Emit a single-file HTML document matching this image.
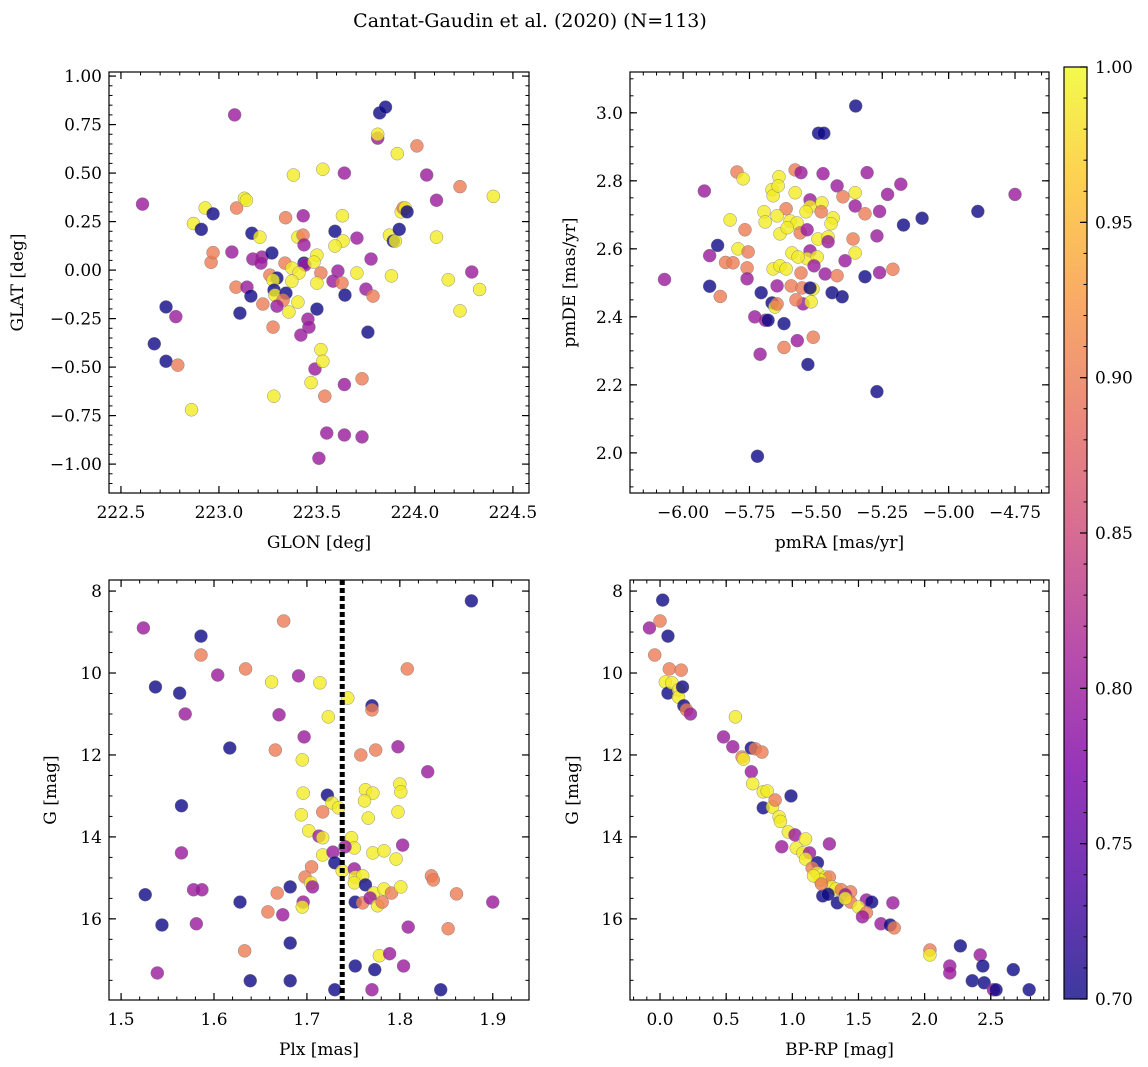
<!DOCTYPE html>
<html><head><meta charset="utf-8"><style>
html,body{margin:0;padding:0;background:#fff;}
svg{display:block;font-family:"DejaVu Serif","Liberation Serif",serif;}
</style></head><body>
<svg id="fig" width="1148" height="1067" viewBox="0 0 1148 1067" xmlns="http://www.w3.org/2000/svg">
<defs>
<linearGradient id="plasma" x1="0" y1="1" x2="0" y2="0">
<stop offset="0" stop-color="#0d0887"/><stop offset="0.125" stop-color="#4c02a1"/><stop offset="0.25" stop-color="#7e03a8"/><stop offset="0.375" stop-color="#a82296"/><stop offset="0.5" stop-color="#cc4778"/><stop offset="0.625" stop-color="#e66c5c"/><stop offset="0.75" stop-color="#f89540"/><stop offset="0.875" stop-color="#fdc328"/><stop offset="1" stop-color="#f0f921"/>
</linearGradient>
</defs>
<text x="530" y="27" font-size="19" text-anchor="middle">Cantat-Gaudin et al. (2020) (N=113)</text>
</svg>
<script>
const P=0.8,O=0.9,Y=0.99,D=0.7;
const glonGlat=[[222.61,0.34,P],[222.67,-0.38,D],[222.73,-0.19,D],[222.73,-0.47,D],[222.78,-0.24,P],[222.79,-0.49,O],[222.87,0.24,Y],[222.86,-0.72,Y],[222.91,0.21,D],[222.93,0.32,Y],[222.96,0.04,O],[222.97,0.29,D],[222.97,0.09,O],[223.08,0.80,P],[223.09,0.32,O],[223.13,0.37,Y],[223.14,0.36,Y],[223.28,-0.65,Y],[223.34,0.27,O],[223.38,0.49,Y],[223.43,0.28,P],[223.47,-0.58,Y],[223.49,-0.51,P],[223.52,-0.41,Y],[223.53,0.52,Y],[223.53,-0.47,Y],[223.54,-0.65,O],[223.55,-0.84,P],[223.51,-0.97,P],[223.63,0.28,Y],[223.64,0.50,P],[223.64,-0.59,P],[223.64,-0.85,P],[223.73,-0.56,O],[223.73,-0.86,P],[223.81,0.68,P],[223.81,0.70,Y],[223.82,0.81,D],[223.85,0.84,D],[223.87,0.18,Y],[223.88,-0.03,Y],[223.89,0.15,D],[223.90,0.15,Y],[223.91,0.60,Y],[223.92,0.21,D],[223.93,0.30,Y],[223.94,0.32,O],[223.95,0.32,Y],[223.96,0.30,D],[224.01,0.64,O],[224.06,0.49,P],[224.11,0.36,P],[224.11,0.17,Y],[224.17,-0.05,Y],[224.23,0.43,O],[224.29,-0.01,P],[224.33,-0.10,Y],[224.23,-0.21,Y],[224.40,0.38,Y],
[223.168,0.19,D],[223.209,0.17,Y],[223.403,0.17,Y],[223.429,0.18,O],[223.434,0.13,P],[223.592,0.20,D],[223.633,0.15,Y],[223.592,0.124,Y],[223.704,0.165,P],[223.066,0.093,P],[223.173,0.057,P],[223.219,0.067,P],[223.214,0.036,P],[223.270,0.088,D],[223.337,0.036,O],[223.434,0.036,D],[223.439,0.026,P],[223.500,0.077,Y],[223.485,0.041,Y],[223.372,0.010,Y],[223.408,-0.015,Y],[223.520,-0.015,O],[223.607,-0.005,P],[223.704,-0.015,Y],[223.776,0.057,P],[223.260,-0.026,O],[223.296,-0.041,D],[223.276,-0.052,Y],[223.372,-0.057,Y],[223.500,-0.067,Y],[223.582,-0.057,P],[223.628,-0.067,O],[223.087,-0.088,O],[223.143,-0.088,P],[223.163,-0.134,D],[223.281,-0.103,D],[223.286,-0.129,Y],[223.342,-0.119,D],[223.327,-0.155,O],[223.296,-0.186,P],[223.224,-0.175,O],[223.403,-0.165,Y],[223.357,-0.216,Y],[223.643,-0.129,D],[223.750,-0.098,P],[223.786,-0.134,O],[223.107,-0.222,D],[223.500,-0.201,D],[223.454,-0.253,P],[223.459,-0.294,P],[223.276,-0.294,O],[223.418,-0.335,P],[223.760,-0.320,D]];
const pmRaDe=[[-6.07,2.51,P],[-5.92,2.77,P],[-5.90,2.58,P],[-5.90,2.49,D],[-5.87,2.61,D],[-5.86,2.46,O],[-5.84,2.56,O],[-5.73,2.40,P],[-5.72,1.99,D],[-5.71,2.29,P],[-5.69,2.39,P],[-5.68,2.39,D],[-5.62,2.38,D],[-5.62,2.31,O],[-5.57,2.33,P],[-5.53,2.26,D],[-5.51,2.34,O],[-5.49,2.94,D],[-5.47,2.94,D],[-5.35,3.02,D],[-5.27,2.18,D],[-5.23,2.76,P],[-5.21,2.54,O],[-5.18,2.79,P],[-5.17,2.67,D],[-5.10,2.69,D],[-4.89,2.71,D],[-4.75,2.76,P],[-5.26,2.53,P],[-5.26,2.71,P],
[-5.797,2.826,O],[-5.774,2.806,Y],[-5.639,2.812,Y],[-5.578,2.832,O],[-5.556,2.824,P],[-5.473,2.821,P],[-5.307,2.824,P],[-5.665,2.774,Y],[-5.661,2.756,Y],[-5.642,2.785,Y],[-5.578,2.765,Y],[-5.420,2.785,P],[-5.398,2.753,O],[-5.352,2.765,Y],[-5.522,2.744,P],[-5.522,2.724,Y],[-5.477,2.735,Y],[-5.480,2.709,O],[-5.537,2.709,Y],[-5.352,2.726,P],[-5.315,2.703,O],[-5.612,2.718,O],[-5.695,2.709,Y],[-5.691,2.679,Y],[-5.646,2.697,Y],[-5.597,2.682,Y],[-5.571,2.676,Y],[-5.635,2.644,Y],[-5.608,2.662,Y],[-5.559,2.647,O],[-5.533,2.656,P],[-5.435,2.691,Y],[-5.443,2.674,Y],[-5.823,2.685,Y],[-5.767,2.656,O],[-5.492,2.629,Y],[-5.454,2.635,Y],[-5.454,2.621,P],[-5.360,2.629,O],[-5.270,2.638,P],[-5.793,2.600,Y],[-5.755,2.591,O],[-5.590,2.588,Y],[-5.522,2.594,P],[-5.533,2.571,Y],[-5.495,2.576,Y],[-5.567,2.576,Y],[-5.352,2.588,Y],[-5.390,2.565,P],[-5.812,2.559,O],[-5.759,2.544,O],[-5.661,2.541,Y],[-5.635,2.550,Y],[-5.612,2.541,Y],[-5.507,2.550,P],[-5.556,2.529,O],[-5.465,2.526,P],[-5.420,2.521,O],[-5.315,2.518,D],[-5.759,2.512,P],[-5.646,2.491,P],[-5.593,2.491,O],[-5.552,2.485,O],[-5.511,2.482,Y],[-5.522,2.485,D],[-5.706,2.471,D],[-5.439,2.471,D],[-5.401,2.459,D],[-5.548,2.438,P],[-5.575,2.450,O],[-5.518,2.444,Y],[-5.665,2.441,D],[-5.654,2.429,Y],[-5.646,2.438,O]];
const plxG=[[1.524,8.90,P],[1.526,15.41,D],[1.537,10.34,D],[1.539,17.32,P],[1.544,16.15,D],[1.563,10.49,D],[1.565,13.24,D],[1.565,14.39,P],[1.569,11.00,P],[1.578,15.29,P],[1.581,16.12,P],[1.586,9.10,D],[1.586,9.56,O],[1.587,15.29,P],[1.604,10.05,P],[1.617,11.83,D],[1.628,15.59,D],[1.633,16.78,O],[1.634,9.90,O],[1.639,17.51,D],[1.658,15.83,O],[1.662,10.22,Y],[1.666,11.88,O],[1.668,15.37,O],[1.670,11.02,P],
[1.675,8.73,O],[1.682,16.59,D],[1.682,17.51,D],[1.691,10.07,P],[1.695,12.12,Y],[1.697,11.56,P],[1.714,10.24,Y],[1.723,11.07,Y],[1.730,17.73,D],[1.744,10.61,Y],[1.752,17.15,D],[1.758,12.00,O],[1.770,10.80,D],[1.770,10.90,O],[1.770,17.73,P],[1.773,17.24,D],[1.774,11.88,O],[1.778,16.90,Y],[1.789,16.85,P],[1.798,11.80,P],[1.804,17.15,P],[1.808,9.90,O],[1.830,12.41,P],
[1.696,12.93,Y],[1.722,12.98,D],[1.727,13.17,Y],[1.734,13.29,Y],[1.717,13.39,O],[1.694,13.46,Y],[1.702,13.85,Y],[1.713,13.98,P],[1.717,14.02,Y],[1.717,14.44,Y],[1.728,14.37,P],[1.730,14.63,D],[1.748,14.02,Y],[1.751,14.27,Y],[1.741,14.24,P],[1.763,12.85,Y],[1.771,12.93,Y],[1.762,13.12,Y],[1.766,13.54,Y],[1.798,13.39,Y],[1.800,12.71,Y],[1.801,12.90,Y],[1.803,14.20,P],[1.771,14.39,Y],[1.783,14.34,Y],[1.796,14.54,Y],[1.705,14.73,O],[1.698,14.98,O],[1.704,15.12,Y],[1.706,15.22,P],[1.682,15.22,D],[1.696,15.59,P],[1.695,15.71,Y],[1.674,15.90,P],[1.738,14.83,Y],[1.751,14.78,P],[1.752,14.98,Y],[1.760,14.95,Y],[1.751,15.12,Y],[1.763,15.17,D],[1.772,15.37,Y],[1.783,15.27,Y],[1.791,15.37,O],[1.801,15.22,Y],[1.752,15.59,D],[1.760,15.61,O],[1.768,15.49,P],[1.776,15.68,Y],[1.781,15.59,O],[1.809,16.20,P],
[1.834,14.95,O],[1.836,15.05,O],[1.844,17.73,D],[1.852,16.24,O],[1.861,15.39,O],[1.877,8.24,D],[1.900,15.59,P]];
const bprpG=[[-0.08,8.90,P],[0.00,8.73,O],[0.02,8.22,D],[-0.04,9.56,O],[0.06,9.10,D],[0.04,10.22,Y],[0.06,10.49,D],[0.07,9.90,O],[0.09,10.24,Y],[0.14,10.41,Y],[0.16,9.93,O],[0.14,10.59,Y],[0.17,10.34,D],[0.18,10.80,D],[0.20,10.90,O],[0.23,11.00,P],[0.57,11.07,Y],
[0.48,11.56,P],[0.55,11.80,P],[0.69,11.83,D],[0.72,11.85,O],[0.77,11.93,O],[0.62,12.05,O],[0.63,12.10,Y],[0.69,12.41,P],[0.70,12.70,Y],[0.78,12.90,Y],[0.81,12.88,Y],[0.99,13.00,D],[0.78,13.29,D],[0.85,13.27,Y],[0.87,13.10,O],[0.90,13.51,Y],[0.91,13.62,Y],[0.97,13.88,Y],
[1.02,13.95,P],[1.10,14.05,Y],[0.92,14.24,P],[1.28,14.17,P],[1.03,14.27,Y],[1.08,14.39,Y],[1.13,14.39,P],[1.10,14.54,Y],[1.19,14.63,D],[1.15,14.76,O],[1.19,14.88,Y],[1.25,14.98,Y],[1.28,14.98,O],[1.21,15.05,Y],[1.23,15.44,D],[1.30,15.22,Y],[1.33,15.27,Y],[1.37,15.29,O],[1.44,15.34,O],[1.40,15.41,P],[1.34,15.61,D],[1.44,15.59,O],[1.56,15.54,P],[1.60,15.59,D],[1.76,15.61,P],[1.50,15.71,Y],[1.56,15.85,O],[1.53,15.95,P],[1.67,16.12,P],[1.74,16.15,D],[1.77,16.22,O],[1.16,14.95,Y],[1.22,15.15,O],[1.27,15.40,D],[1.40,15.50,Y],
[2.04,16.76,O],[2.04,16.88,Y],[2.19,17.15,P],[2.19,17.32,P],[2.27,16.66,D],[2.36,17.51,D],[2.42,16.88,P],[2.44,17.15,D],[2.45,17.56,D],[2.52,17.73,P],[2.54,17.73,D],[2.67,17.24,D],[2.79,17.73,D]];
const cbTicks=[0.70,0.75,0.80,0.85,0.90,0.95,1.00];

const NS="http://www.w3.org/2000/svg";
const svg=document.getElementById('fig');
function el(tag,attrs,parent){const e=document.createElementNS(NS,tag);for(const k in attrs)e.setAttribute(k,attrs[k]);(parent||svg).appendChild(e);return e;}
const stops=[[0,[13,8,135]],[0.125,[76,2,161]],[0.25,[126,3,168]],[0.375,[168,34,150]],[0.5,[204,71,120]],[0.625,[230,108,92]],[0.75,[248,149,64]],[0.875,[253,195,40]],[1,[240,249,33]]];
function plasma(v){let t=Math.max(0,Math.min(1,(v-0.7)/0.3));for(let i=1;i<stops.length;i++){if(t<=stops[i][0]){const a=stops[i-1],b=stops[i];const f=(t-a[0])/(b[0]-a[0]);const c=a[1].map((x,j)=>Math.round(x+(b[1][j]-x)*f));return `rgb(${c.join(',')})`;}}return 'rgb(240,249,33)';}
function fmt(v,dec){let s=v.toFixed(dec);if(v<-1e-9)s='\u2212'+s.slice(1);if(Math.abs(v)<1e-9)s=(0).toFixed(dec);return s;}

function panel(o){
  const g=el('g',{});
  
  
  const X=v=>o.l+(v-o.x0)/(o.x1-o.x0)*(o.r-o.l);
  const Yf=v=>o.inv? o.t+(v-o.y0)/(o.y1-o.y0)*(o.b-o.t) : o.b-(v-o.y0)/(o.y1-o.y0)*(o.b-o.t);
  for(const d of o.data){
    const c=el('circle',{cx:X(d[0]),cy:Yf(d[1]),r:6.5,fill:plasma(d[2]),'fill-opacity':0.8,stroke:'#777','stroke-width':0.4},g);
    
    
  }
  if(o.vline!==undefined){const ln=el('line',{x1:X(o.vline),x2:X(o.vline),y1:o.t,y2:o.b,stroke:'#000','stroke-width':5,'stroke-dasharray':'5,3'},g);
    
    }
  const fr=el('rect',{x:o.l,y:o.t,width:o.r-o.l,height:o.b-o.t,fill:'none',stroke:'#000','stroke-width':1.2},g);
  
  
  const eps=1e-9;
  const xm0=Math.ceil(Math.min(o.x0,o.x1)/o.xmin-eps)*o.xmin;
  for(let v=xm0;v<=Math.max(o.x0,o.x1)+eps;v+=o.xmin){const x=X(v);el('line',{x1:x,x2:x,y1:o.b,y2:o.b-3.5,stroke:'#000','stroke-width':1},g);el('line',{x1:x,x2:x,y1:o.t,y2:o.t+3.5,stroke:'#000','stroke-width':1},g);}
  const ylo=Math.min(o.y0,o.y1),yhi=Math.max(o.y0,o.y1);
  for(let v=Math.ceil(ylo/o.ymin-eps)*o.ymin;v<=yhi+eps;v+=o.ymin){const y=Yf(v);el('line',{x1:o.l,x2:o.l+3.5,y1:y,y2:y,stroke:'#000','stroke-width':1},g);el('line',{x1:o.r,x2:o.r-3.5,y1:y,y2:y,stroke:'#000','stroke-width':1},g);}
  for(const v of o.xt){const x=X(v);el('line',{x1:x,x2:x,y1:o.b,y2:o.b-7,stroke:'#000','stroke-width':1.2},g);el('line',{x1:x,x2:x,y1:o.t,y2:o.t+7,stroke:'#000','stroke-width':1.2},g);
    const t=el('text',{x:x,y:o.b+25,'font-size':17,'text-anchor':'middle'},g);t.textContent=fmt(v,o.xd);
    
    }
  for(const v of o.yt){const y=Yf(v);el('line',{x1:o.l,x2:o.l+7,y1:y,y2:y,stroke:'#000','stroke-width':1.2},g);el('line',{x1:o.r,x2:o.r-7,y1:y,y2:y,stroke:'#000','stroke-width':1.2},g);
    const t=el('text',{x:o.l-7,y:y+6,'font-size':17,'text-anchor':'end'},g);t.textContent=fmt(v,o.yd);
    
    }
  const xl=el('text',{x:(o.l+o.r)/2,y:o.b+55,'font-size':17,'text-anchor':'middle'},g);xl.textContent=o.xlabel;
  
  
  const cy=(o.t+o.b)/2;
  const yl=el('text',{x:o.ylx,y:cy,'font-size':17,'text-anchor':'middle',transform:`rotate(-90 ${o.ylx} ${cy})`},g);yl.textContent=o.ylabel;
  
  
}
function rng(a,b,s){const r=[];for(let v=a;v<=b+1e-9;v+=s)r.push(Math.round(v*1000)/1000);return r;}

panel({name:'glon-glat-panel',data:glonGlat,l:109,r:529,t:72,b:493,x0:222.439,x1:224.582,y0:-1.149,y1:1.021,xt:rng(222.5,224.5,0.5),xd:1,xmin:0.1,yt:rng(-1,1,0.25),yd:2,ymin:0.05,xlabel:'GLON [deg]',ylabel:'GLAT [deg]',ylx:23});
panel({name:'propermotion-panel',data:pmRaDe,l:630,r:1049,t:72,b:493,x0:-6.2,x1:-4.622,y0:1.882,y1:3.12,xt:rng(-6,-4.75,0.25),xd:2,xmin:0.05,yt:rng(2,3,0.2),yd:1,ymin:0.05,xlabel:'pmRA [mas/yr]',ylabel:'pmDE [mas/yr]',ylx:575});
panel({name:'parallax-mag-panel',data:plxG,l:109,r:529,t:580,b:1000,x0:1.487,x1:1.939,y0:7.73,y1:17.98,inv:true,xt:rng(1.5,1.9,0.1),xd:1,xmin:0.02,yt:rng(8,16,2),yd:0,ymin:0.5,xlabel:'Plx [mas]',ylabel:'G [mag]',ylx:56,vline:1.738});
panel({name:'cmd-panel',data:bprpG,l:630,r:1049,t:580,b:1000,x0:-0.227,x1:2.94,y0:7.73,y1:17.98,inv:true,xt:rng(0,2.5,0.5),xd:1,xmin:0.1,yt:rng(8,16,2),yd:0,ymin:0.5,xlabel:'BP-RP [mag]',ylabel:'G [mag]',ylx:578});

const cb=el('g',{});


const cl=1064,cr=1087,ct=67,cbb=999;
el('rect',{x:cl,y:ct,width:cr-cl,height:cbb-ct,fill:'url(#plasma)','fill-opacity':0.8},cb);
el('rect',{x:cl,y:ct,width:cr-cl,height:cbb-ct,fill:'none',stroke:'#000','stroke-width':1.2},cb);
const CY=v=>cbb-(v-0.7)/0.3*(cbb-ct);
for(let v=0.70;v<=1.0001;v+=0.01){const y=CY(v);el('line',{x1:cr,x2:cr-3.5,y1:y,y2:y,stroke:'#000','stroke-width':1},cb);}
for(const v of cbTicks){const y=CY(v);el('line',{x1:cr,x2:cr-7,y1:y,y2:y,stroke:'#000','stroke-width':1.2},cb);
  const t=el('text',{x:cr+8,y:y+6,'font-size':17},cb);t.textContent=v.toFixed(2);
  
  }
</script>
</body></html>
